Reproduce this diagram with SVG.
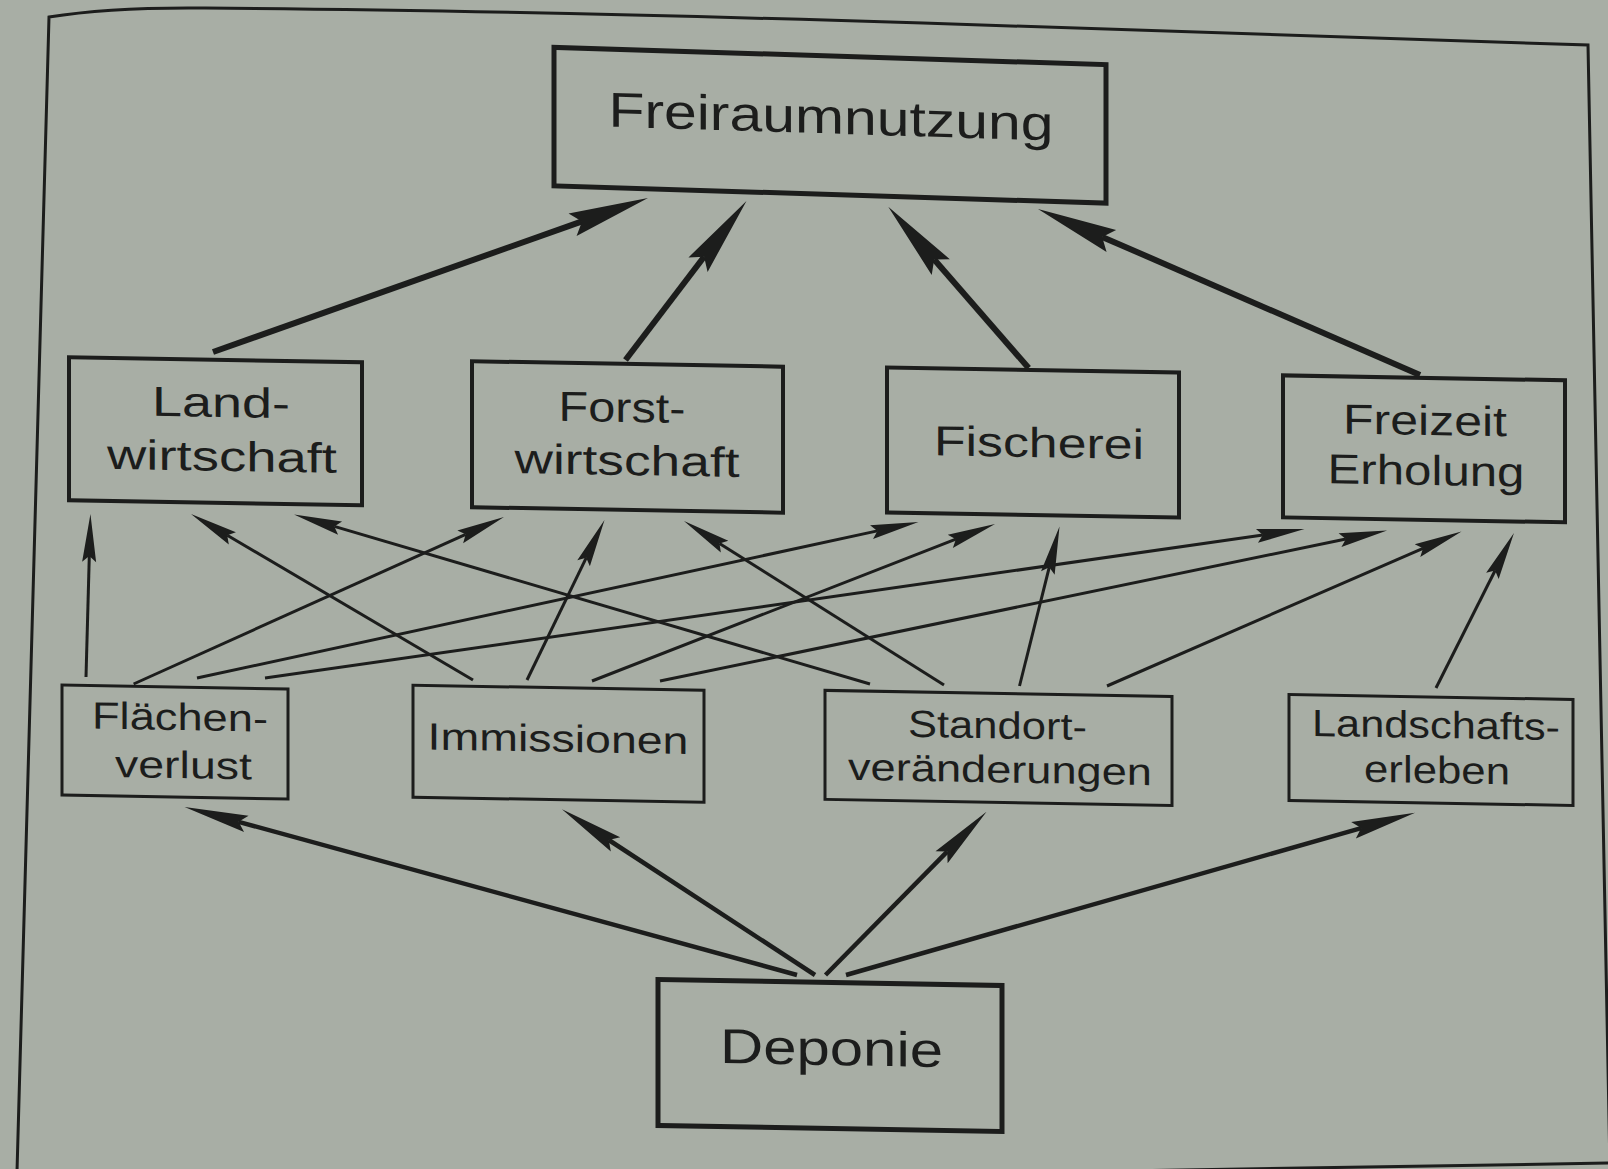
<svg xmlns="http://www.w3.org/2000/svg" width="1608" height="1169" viewBox="0 0 1608 1169">
  <style>
    .box { fill: none; stroke: #1c1d1c; }
    .b1 { stroke-width: 5; }
    .b2 { stroke-width: 4; }
    .b3 { stroke-width: 3; }
    .lbl { font-family: "Liberation Sans", Arial, sans-serif; fill: #1c1d1c; text-anchor: middle; }
    .big { font-size: 49px; }
    .mid { font-size: 42px; }
    .sml { font-size: 38px; }
    .thick { stroke: #1c1d1c; stroke-width: 6; fill: none; marker-end: url(#headL); }
    .medium { stroke: #1c1d1c; stroke-width: 4.5; fill: none; marker-end: url(#headM); }
    .thin { stroke: #1c1d1c; stroke-width: 3; fill: none; marker-end: url(#headS); }
  </style>
  <defs>
    <!-- slender notched arrowheads; refX sits on the notch where the shaft ends -->
    <marker id="headL" markerUnits="userSpaceOnUse" markerWidth="82" markerHeight="26" refX="10" refY="13" orient="auto" overflow="visible">
      <path d="M0,1 L80,13 L0,25 L10,13 Z" fill="#1c1d1c"/>
    </marker>
    <marker id="headM" markerUnits="userSpaceOnUse" markerWidth="66" markerHeight="19" refX="8" refY="9.5" orient="auto" overflow="visible">
      <path d="M0,1 L64,9.5 L0,18 L8,9.5 Z" fill="#1c1d1c"/>
    </marker>
    <marker id="headS" markerUnits="userSpaceOnUse" markerWidth="50" markerHeight="16" refX="6" refY="8" orient="auto" overflow="visible">
      <path d="M0,1 L48,8 L0,15 L6,8 Z" fill="#1c1d1c"/>
    </marker>
  </defs>

  <!-- paper -->
  <rect x="0" y="0" width="1608" height="1169" fill="#a8aea5"/>
  <g id="frame" fill="none" stroke="#1c1d1c" stroke-width="3">
    <path d="M17,1172 L49,17 Q110,7 205,8 Q500,10 923,23 L1588,45 L1610,1169"/>
    <path d="M1000,1173 L1610,1163"/>
  </g>

  <!-- nodes (page is slightly tilted) -->
  <g id="nodes" transform="skewY(1)">
    <g id="freiraumnutzung" transform="translate(831,0) skewY(0.8) translate(-831,0)">
      <rect class="box b1" x="554" y="41.5" width="552" height="138.5"/>
      <text class="lbl big" x="831" y="119" textLength="445" lengthAdjust="spacingAndGlyphs">Freiraumnutzung</text>
    </g>
    <g id="landwirtschaft">
      <rect class="box b2" x="69" y="356" width="293" height="143"/>
      <text class="lbl mid" x="221" y="413" textLength="138" lengthAdjust="spacingAndGlyphs">Land-</text>
      <text class="lbl mid" x="222" y="467" textLength="230" lengthAdjust="spacingAndGlyphs">wirtschaft</text>
    </g>
    <g id="forstwirtschaft">
      <rect class="box b2" x="472" y="353" width="311" height="146"/>
      <text class="lbl mid" x="622" y="411" textLength="127" lengthAdjust="spacingAndGlyphs">Forst-</text>
      <text class="lbl mid" x="627" y="464" textLength="225" lengthAdjust="spacingAndGlyphs">wirtschaft</text>
    </g>
    <g id="fischerei">
      <rect class="box b2" x="887" y="352" width="292" height="145"/>
      <text class="lbl mid" x="1039" y="439" textLength="210" lengthAdjust="spacingAndGlyphs">Fischerei</text>
    </g>
    <g id="freizeit">
      <rect class="box b2" x="1283" y="353" width="282" height="142"/>
      <text class="lbl mid" x="1425" y="410" textLength="164" lengthAdjust="spacingAndGlyphs">Freizeit</text>
      <text class="lbl mid" x="1426" y="460" textLength="197" lengthAdjust="spacingAndGlyphs">Erholung</text>
    </g>
    <g id="flaechenverlust">
      <rect class="box b3" x="62" y="684" width="226" height="110"/>
      <text class="lbl sml" x="180" y="727" textLength="176" lengthAdjust="spacingAndGlyphs">Flächen-</text>
      <text class="lbl sml" x="183.5" y="775" textLength="137" lengthAdjust="spacingAndGlyphs">verlust</text>
    </g>
    <g id="immissionen">
      <rect class="box b3" x="413" y="678" width="291" height="112"/>
      <text class="lbl sml" x="558" y="742" textLength="261" lengthAdjust="spacingAndGlyphs">Immissionen</text>
    </g>
    <g id="standort">
      <rect class="box b3" x="825" y="676" width="347" height="109"/>
      <text class="lbl sml" x="997.5" y="721" textLength="179" lengthAdjust="spacingAndGlyphs">Standort-</text>
      <text class="lbl sml" x="1000" y="765" textLength="304" lengthAdjust="spacingAndGlyphs">veränderungen</text>
    </g>
    <g id="landschaftserleben">
      <rect class="box b3" x="1289" y="672" width="284" height="106"/>
      <text class="lbl sml" x="1436" y="713" textLength="248" lengthAdjust="spacingAndGlyphs">Landschafts-</text>
      <text class="lbl sml" x="1437" y="758" textLength="146" lengthAdjust="spacingAndGlyphs">erleben</text>
    </g>
    <g id="deponie">
      <rect class="box b1" x="658" y="968" width="344" height="146"/>
      <text class="lbl big" x="831.5" y="1050.5" textLength="223" lengthAdjust="spacingAndGlyphs">Deponie</text>
    </g>
  </g>

  <!-- connectors -->
  <g id="connectors">
    <!-- uses into Freiraumnutzung -->
    <line class="thick" x1="213" y1="352" x2="582" y2="221.4"/>
    <line class="thick" x1="625.5" y1="360" x2="704.1" y2="256.7"/>
    <line class="thick" x1="1028.6" y1="368" x2="934.2" y2="259.5"/>
    <line class="thick" x1="1420" y1="375" x2="1102.2" y2="236.9"/>
    <!-- Flächenverlust -->
    <line class="thin" x1="86" y1="677" x2="89.3" y2="556"/>
    <line class="thin" x1="133.6" y1="684" x2="465.7" y2="534.3"/>
    <line class="thin" x1="197" y1="678" x2="877.4" y2="530.9"/>
    <line class="thin" x1="265" y1="678" x2="1262.9" y2="535"/>
    <!-- Immissionen -->
    <line class="thin" x1="473" y1="680" x2="227.2" y2="535.3"/>
    <line class="thin" x1="527" y1="680" x2="586.2" y2="557.8"/>
    <line class="thin" x1="592" y1="681" x2="955.9" y2="539.2"/>
    <line class="thin" x1="660" y1="681" x2="1345.9" y2="539"/>
    <!-- Standortveränderungen -->
    <line class="thin" x1="870" y1="684" x2="334.3" y2="526.4"/>
    <line class="thin" x1="944" y1="685" x2="719.5" y2="543.4"/>
    <line class="thin" x1="1019.5" y1="686" x2="1049.3" y2="567.2"/>
    <line class="thin" x1="1107" y1="686" x2="1423" y2="548.3"/>
    <!-- Landschaftserleben -->
    <line class="thin" x1="1436" y1="688" x2="1495.1" y2="570.5"/>
    <!-- Deponie effects -->
    <line class="medium" x1="797" y1="975" x2="238.6" y2="821.8"/>
    <line class="medium" x1="815" y1="975" x2="608.8" y2="840"/>
    <line class="medium" x1="825.5" y1="975" x2="947.2" y2="851.6"/>
    <line class="medium" x1="846" y1="975" x2="1361.2" y2="828.1"/>
  </g>
</svg>
